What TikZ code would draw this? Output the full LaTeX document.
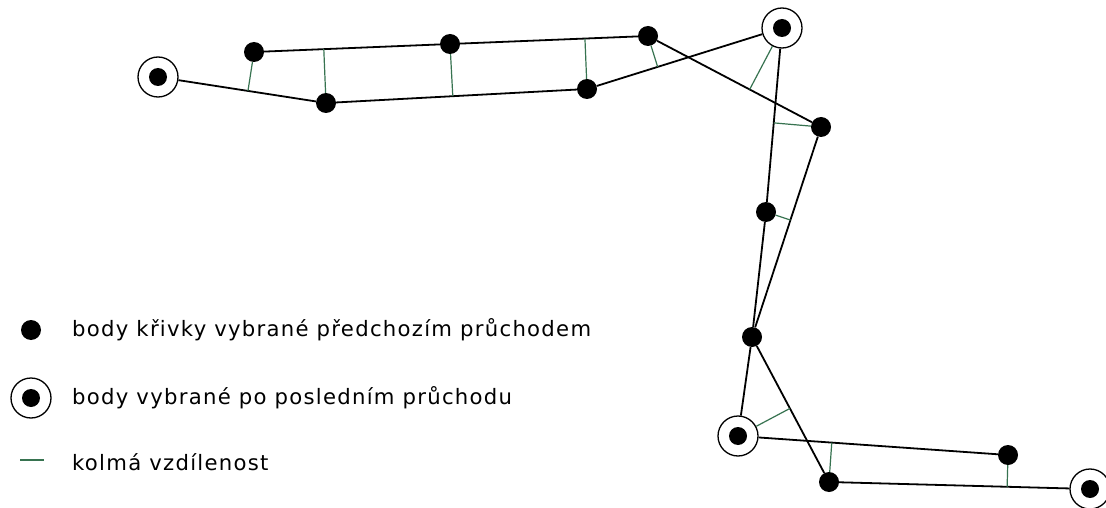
\documentclass[tikz,border=0pt]{standalone}
\usepackage{fontspec}
\setmainfont{DejaVu Sans}
\newfontfamily\legendfont[LetterSpace=6]{DejaVu Sans}
\usetikzlibrary{calc}

\begin{document}
\begin{tikzpicture}[x=1pt, y=-1pt,
  dot/.style={circle, fill=black, inner sep=0pt, minimum size=20pt},
  ring/.style={circle, draw=black, line width=1.3pt, fill=white, inner sep=0pt, minimum size=40pt},
  seg/.style={draw=black, line width=1.8pt},
  perp/.style={draw=perpgreen, line width=1.2pt},
  legend/.style={font=\legendfont\fontsize{21.2}{25}\selectfont, anchor=west, inner sep=0pt},
  ]
  \definecolor{perpgreen}{RGB}{55,115,80}
  \useasboundingbox[fill=white] (0,0) rectangle (1106,508);

  % selected after the last pass
  \node[ring] (e1) at (158,77) {};
  \node[ring] (e2) at (782,28) {};
  \node[ring] (e3) at (738,436) {};
  \node[ring] (e4) at (1090,489) {};
  \foreach \n in {e1,e2,e3,e4} \node[dot, minimum size=18pt] at (\n) {};

  % selected by the previous pass
  \node[dot] (p1) at (254,52) {};
  \node[dot] (p2) at (326,103) {};
  \node[dot] (p3) at (450,44) {};
  \node[dot] (p4) at (587,89) {};
  \node[dot] (p5) at (648,36) {};
  \node[dot] (p6) at (821,127) {};
  \node[dot] (p7) at (766,212) {};
  \node[dot] (p8) at (752,337) {};
  \node[dot] (p9) at (829,482) {};
  \node[dot] (p10) at (1008,455) {};

  \draw[seg] (e1) -- (p2) -- (p4) -- (e2) -- (p7) -- (p8) -- (e3) -- (p10);
  \draw[seg] (p1) -- (p3) -- (p5) -- (p6) -- (p8) -- (p9) -- (e4);

  \draw[perp] (p1) -- ($(e1)!(p1)!(p2)$);
  \draw[perp] (p2) -- ($(p1)!(p2)!(p3)$);
  \draw[perp] (p3) -- ($(p2)!(p3)!(p4)$);
  \draw[perp] (p4) -- ($(p3)!(p4)!(p5)$);
  \draw[perp] (p5) -- ($(p4)!(p5)!(e2)$);
  \draw[perp] (e2) -- ($(p5)!(e2)!(p6)$);
  \draw[perp] (p6) -- ($(e2)!(p6)!(p7)$);
  \draw[perp] (p7) -- ($(p6)!(p7)!(p8)$);
  \draw[perp] (e3) -- ($(p8)!(e3)!(p9)$);
  \draw[perp] (p9) -- ($(e3)!(p9)!(p10)$);
  \draw[perp] (p10) -- ($(p9)!(p10)!(e4)$);

  % legend
  \node[dot] (kdot) at (31,330) {};
  \node[ring] (kring) at (31,398) {};
  \node[dot, minimum size=18pt] at (kring) {};
  \coordinate (kperpa) at (20,460);
  \coordinate (kperpb) at (44,460);
  \draw[perp, line width=1.6pt] (kperpa) -- (kperpb);
  \node[legend] (tdot) at (72,330) {body křivky vybrané předchozím průchodem};
  \node[legend] (tring) at (72,398) {body vybrané po posledním průchodu};
  \node[legend] (tperp) at (72,462) {kolmá vzdílenost};
\end{tikzpicture}
\end{document}
